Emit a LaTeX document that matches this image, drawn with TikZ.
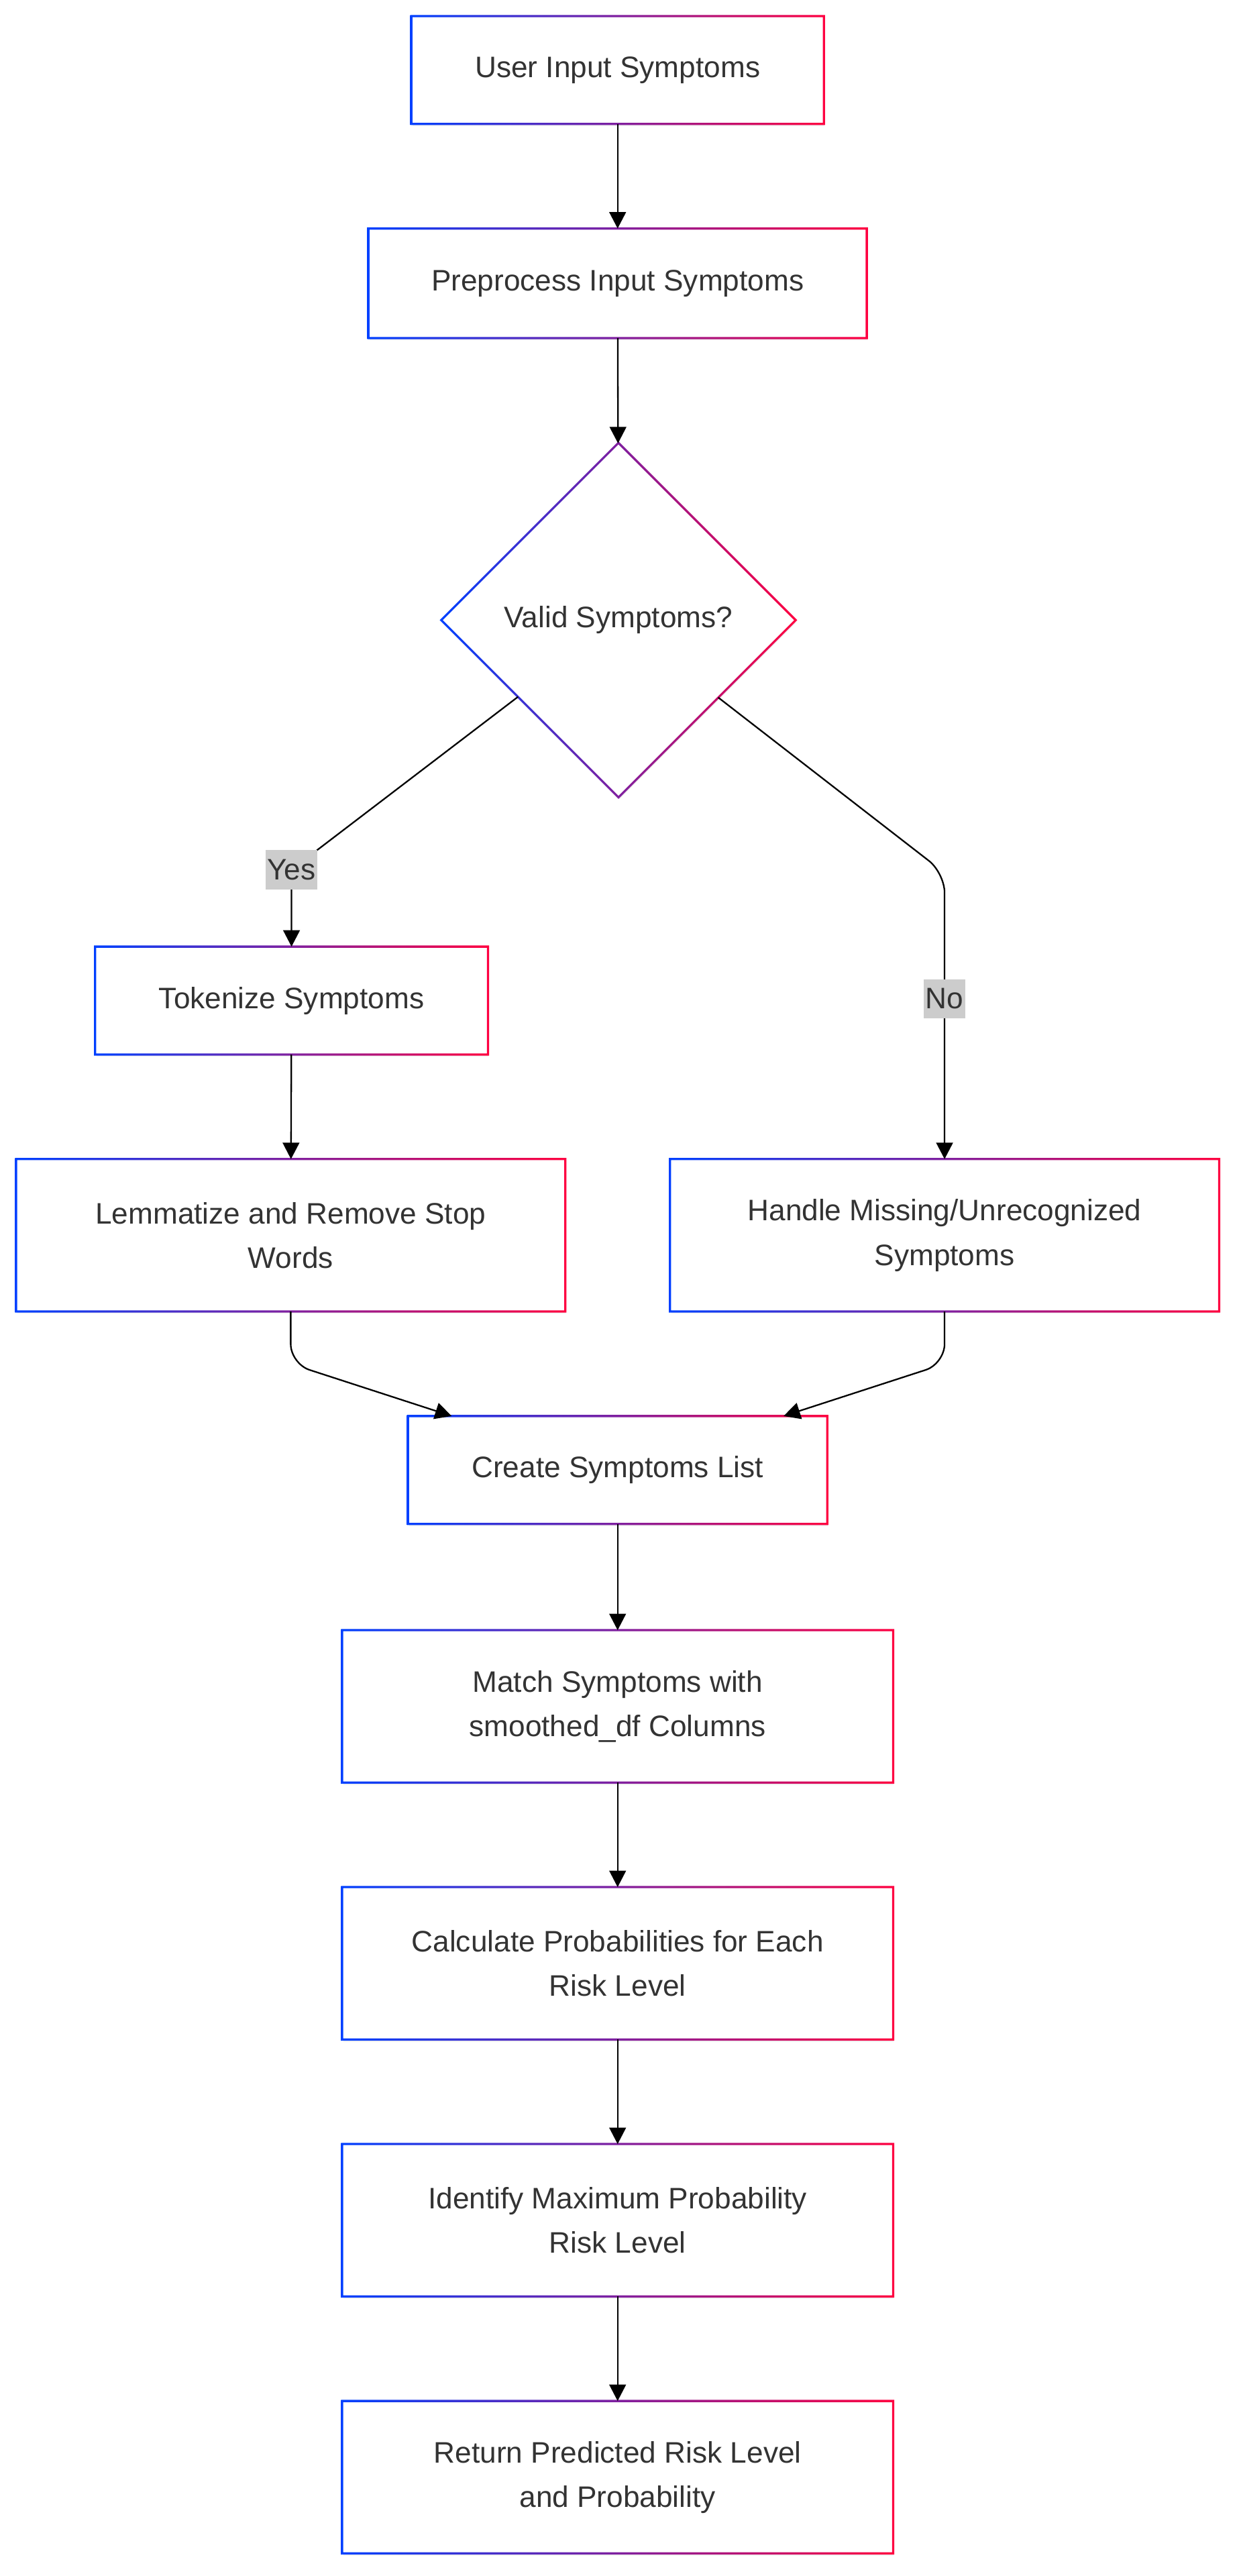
\documentclass[tikz,border=0pt]{standalone}
\usepackage{fontspec}
\setmainfont{Liberation Sans}
\usepackage{tikz}
\usetikzlibrary{shapes,arrows.meta,shadows}
\definecolor{cblue}{RGB}{0,64,255}
\definecolor{cred}{RGB}{255,0,64}
\definecolor{ctext}{RGB}{51,51,51}
\definecolor{clabel}{RGB}{204,204,204}

\begin{document}
\begin{tikzpicture}[x=0.75pt,y=-0.75pt]
    \newcommand{\gframe}[1]{\shade[left color=cblue,right color=cred,even odd rule]
      ([shift={(-0.5pt,-0.5pt)}]#1.south west) rectangle ([shift={(0.5pt,0.5pt)}]#1.north east)
      ([shift={(0.5pt,0.5pt)}]#1.south west) rectangle ([shift={(-0.5pt,-0.5pt)}]#1.north east);}
    \newcommand{\dframe}[1]{\shade[left color=cblue,right color=cred,even odd rule]
      ([yshift=0.7pt]#1.north) -- ([xshift=0.7pt]#1.east) -- ([yshift=-0.7pt]#1.south) -- ([xshift=-0.7pt]#1.west) -- cycle
      ([yshift=-0.7pt]#1.north) -- ([xshift=-0.7pt]#1.east) -- ([yshift=0.7pt]#1.south) -- ([xshift=0.7pt]#1.west) -- cycle;}

    \tikzstyle{dedge} = [line width=0.7pt,-{Triangle[length=7.5pt,width=7.6pt]},draw=black]
    \tikzstyle{stepbox}=[
      rectangle,
      fill=white,
      text=ctext,
      align=center,
      inner sep=0pt,
      minimum height=48.75pt,
      font=\fontsize{13.5pt}{20.25pt}\selectfont,
      drop shadow={shadow xshift=0.4pt,shadow yshift=-1.2pt,opacity=0.12},
    ]
    \tikzstyle{decision}=[
      diamond,
      fill=white,
      text=ctext,
      aspect=1,
      inner sep=0pt,
      minimum size=161pt,
      font=\fontsize{13.5pt}{20.25pt}\selectfont,
      drop shadow={shadow xshift=0.4pt,shadow yshift=-1.2pt,opacity=0.12},
    ]
    \tikzstyle{lbl}=[
      sharp corners,
      fill=clabel,
      text=ctext,
      inner xsep=0.8pt,
      inner ysep=0pt,
      minimum height=18pt,
      font=\fontsize{13.5pt}{16pt}\selectfont,
    ]

    \useasboundingbox (0,0) rectangle (752,1564);

    \node[stepbox,minimum width=187.5pt] (s1) at (375,42.5) {User Input Symptoms};
    \node[stepbox,minimum width=226.5pt,minimum height=49.5pt] (s2) at (375,172) {Preprocess Input Symptoms};
    \node[decision] (d1) at (375.5,376.5) {Valid Symptoms?};
    \node[stepbox,minimum width=178.5pt] (s3) at (177,607.5) {Tokenize Symptoms};
    \node[stepbox,minimum width=249.75pt,minimum height=69pt] (s4) at (176.5,750) {Lemmatize and Remove Stop\\Words};
    \node[stepbox,minimum width=249.75pt,minimum height=69pt] (s5) at (573.5,750) {Handle Missing/Unrecognized\\Symptoms};
    \node[stepbox,minimum width=190.5pt] (s6) at (375,892.5) {Create Symptoms List};
    \node[stepbox,minimum width=250.5pt,minimum height=69pt] (s7) at (375,1036) {Match Symptoms with\\smoothed\_df Columns};
    \node[stepbox,minimum width=250.5pt,minimum height=69pt] (s8) at (375,1192) {Calculate Probabilities for Each\\Risk Level};
    \node[stepbox,minimum width=250.5pt,minimum height=69pt] (s9) at (375,1348) {Identify Maximum Probability\\Risk Level};
    \node[stepbox,minimum width=250.5pt,minimum height=69pt] (s10) at (375,1504) {Return Predicted Risk Level\\and Probability};

    \gframe{s1}
    \gframe{s2}
    \dframe{d1}
    \gframe{s3}
    \gframe{s4}
    \gframe{s5}
    \gframe{s6}
    \gframe{s7}
    \gframe{s8}
    \gframe{s9}
    \gframe{s10}

    \coordinate (ybend) at (177,528);
    \coordinate (nbend) at (573.5,530);
    \coordinate (lbend) at (176.5,828);
    \coordinate (hbend) at (573.5,828);

    \draw[dedge] (s1)--(s2);
    \draw[dedge] (s2)--(d1);
    \draw[dedge] (d1)--(ybend) node[lbl] {Yes} --(s3);
    \draw[dedge,rounded corners=9pt] (d1)--(nbend)--node[lbl,pos=0.44] {No} (s5);
    \draw[dedge] (s3)--(s4);
    \draw[dedge,rounded corners=9pt] (s4)--(lbend)--(s6);
    \draw[dedge,rounded corners=9pt] (s5)--(hbend)--(s6);
    \draw[dedge] (s6)--(s7);
    \draw[dedge] (s7)--(s8);
    \draw[dedge] (s8)--(s9);
    \draw[dedge] (s9)--(s10);
  \end{tikzpicture}
\end{document}
